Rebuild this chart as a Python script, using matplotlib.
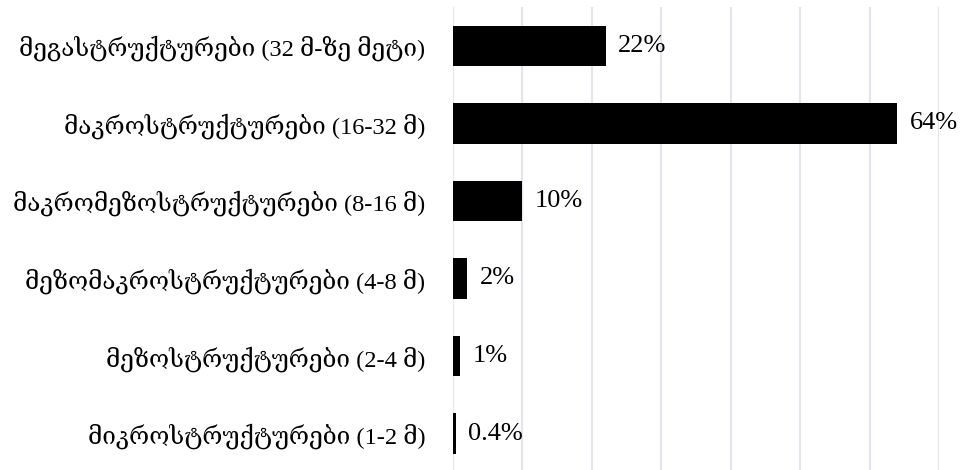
import numpy as np
import matplotlib.pyplot as plt

# categories top to bottom
categories = [
    "მეგასტრუქტურები (32 მ-ზე მეტი)",
    "მაკროსტრუქტურები (16-32 მ)",
    "მაკრომეზოსტრუქტურები (8-16 მ)",
    "მეზომაკროსტრუქტურები (4-8 მ)",
    "მეზოსტრუქტურები (2-4 მ)",
    "მიკროსტრუქტურები (1-2 მ)",
]
values = [22, 64, 10, 2, 1, 0.4]
value_labels = ["22%", "64%", "10%", "2%", "1%", "0.4%"]

fonts = ['Liberation Serif', 'DejaVu Serif']

fig = plt.figure(figsize=(9.67, 4.70), dpi=100)
ax = fig.add_axes([0.4685, -0.005, 0.5025, 0.99])

y = np.arange(len(categories))
ax.barh(y, values, height=0.52, color='black', zorder=3)
ax.set_ylim(len(categories) - 0.5, -0.5)
ax.set_xlim(0, 70)
ax.set_xticks(np.arange(0, 71, 10))
ax.xaxis.grid(True, color='#e1e5ee', linewidth=1.5, zorder=0)
ax.tick_params(axis='x', length=0, labelbottom=False)
ax.tick_params(axis='y', length=0, pad=20)
ax.set_yticks(y)
ax.set_yticklabels(categories, family=fonts, fontsize=17.6)
for s in ax.spines.values():
    s.set_visible(False)

for yi, v, lab in zip(y, values, value_labels):
    ax.text(v + 1.8, yi, lab, va='center', ha='left', family=fonts,
            fontsize=19, clip_on=False)

fig.savefig('out.png', dpi=100)
